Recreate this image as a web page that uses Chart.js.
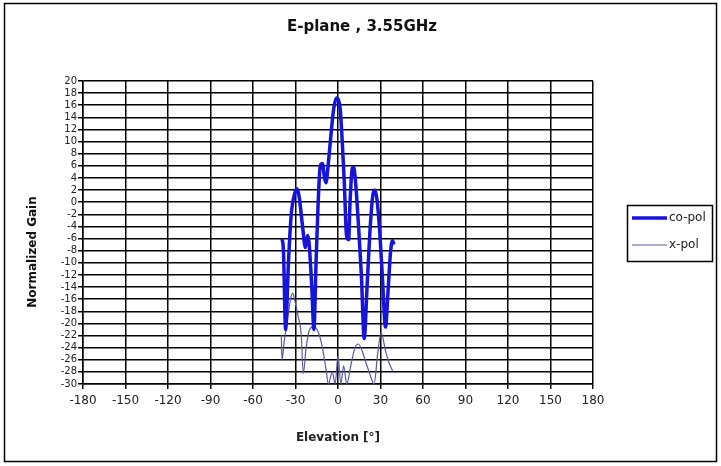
<!DOCTYPE html>
<html>
<head>
<meta charset="utf-8">
<script src="https://cdn.jsdelivr.net/npm/chart.js@4.4.0/dist/chart.umd.min.js"></script>
<style>
  body { margin: 0; background: #fff; }
  canvas { display: block; }
</style>
</head>
<body>
<canvas id="chart" width="721" height="466"></canvas>
<script>
// Measured pattern, E-plane at 3.55GHz
const chartTitle = 'E-plane , 3.55GHz'
const seriesNames = ['co-pol', 'x-pol']

const coPolElevation = [-39.5, -38.5, -37, -35, -33, -30.5, -29, -27.5, -25, -23, -21.5, -20.5, -18.5, -17,
  -15.5, -14, -12.5, -11, -9.5, -8.5, -7, -5, -3, -1, 0, 1.5, 3, 4.5, 6, 7.5, 8.5, 10, 11, 12.5, 14.5,
  16.5, 18.5, 20.5, 22.5, 24.5, 26, 27.5, 29.5, 31.5, 33.5, 35.5, 37, 38.5, 39.5]
const coPolGain = [-6, -8, -21, -10, -2, 1.5, 2.2, 1, -4, -7.5, -5.5, -6.5, -14, -21,
  -10, 0, 6, 6.4, 4, 3.2, 6, 11, 15.5, 17.2, 17, 15.5, 10, 3, -5.5, -6.2, 0, 5.5, 5.8, 3, -4,
  -12, -22.5, -14, -5, 1, 2, 0.5, -5, -13, -20.6, -14, -8.5, -6.3, -7]

const xPolElevation = [-40, -39.5, -38, -36, -33.5, -32, -30.5, -28, -26, -24.5, -22.5, -20, -17, -13.5,
  -11, -8.5, -6.8, -4, -2, 0, 2, 4, 6.2, 9, 12, 14.3, 17, 19, 22, 25.5, 28, 30.5, 33.5, 36, 38.6]
const xPolGain = [-22, -26, -23, -20, -16, -15, -16.2, -19, -21.7, -28.3, -24, -21, -20.5, -21.7,
  -24, -27.5, -30, -28, -30, -25.3, -30, -27, -30, -27, -24, -23.4, -24.5, -26, -28, -30, -25, -21.5, -24.5, -26.5, -27.8]

const FONT = 'DejaVu Sans'

// Title, y-axis title, legend box and outer frame
const decorations = {
  id: 'decorations',
  afterDraw(chart) {
    const ctx = chart.ctx
    ctx.save()
    ctx.fillStyle = '#111'
    ctx.textAlign = 'center'
    ctx.textBaseline = 'middle'
    ctx.font = 'bold 15px ' + FONT
    ctx.fillText(chartTitle, 362, 27)

    ctx.translate(33, 252)
    ctx.rotate(-Math.PI / 2)
    ctx.font = 'bold 12px ' + FONT
    ctx.fillText('Normalized Gain', 0, 0)
    ctx.restore()

    // legend
    ctx.save()
    ctx.strokeStyle = '#000'
    ctx.lineWidth = 1.5
    ctx.strokeRect(627.5, 205.5, 85, 56)
    ctx.font = '12px ' + FONT
    ctx.fillStyle = '#222'
    ctx.textBaseline = 'middle'
    const rows = [218, 245]
    chart.data.datasets.forEach((ds, i) => {
      ctx.beginPath()
      ctx.strokeStyle = ds.borderColor
      ctx.lineWidth = ds.borderWidth
      ctx.moveTo(632, rows[i])
      ctx.lineTo(667, rows[i])
      ctx.stroke()
      ctx.fillText(ds.label, 669, rows[i])
    })

    ctx.strokeStyle = '#000'
    ctx.lineWidth = 1.5
    ctx.strokeRect(4.5, 3.5, 712, 458)
    ctx.restore()
  }
}

new Chart(document.getElementById('chart'), {
  type: 'line',
  data: {
    datasets: [
      {
        label: seriesNames[0],
        data: coPolElevation.map((x, i) => ({ x, y: coPolGain[i] })),
        borderColor: '#1414dc',
        borderWidth: 3.5,
        pointRadius: 0,
        cubicInterpolationMode: 'monotone'
      },
      {
        label: seriesNames[1],
        data: xPolElevation.map((x, i) => ({ x, y: xPolGain[i] })),
        borderColor: '#5a5a9e',
        borderWidth: 1.2,
        pointRadius: 0,
        cubicInterpolationMode: 'monotone'
      }
    ]
  },
  options: {
    responsive: false,
    animation: false,
    layout: { padding: { top: 81, right: 128, left: 0, bottom: 0 } },
    plugins: {
      legend: { display: false },
      tooltip: { enabled: false }
    },
    scales: {
      x: {
        type: 'linear',
        min: -180,
        max: 180,
        afterFit: (s) => { s.height = 82 },
        ticks: { stepSize: 30, color: '#222', padding: 5, font: { family: FONT, size: 12 } },
        grid: { color: '#000', lineWidth: 1.5, tickLength: 5 },
        border: { color: '#000', width: 1.5 },
        title: {
          display: true,
          text: 'Elevation [°]',
          color: '#222',
          font: { family: FONT, size: 12, weight: 'bold' },
          padding: { top: 0, bottom: 21 }
        }
      },
      y: {
        min: -30,
        max: 20,
        afterFit: (s) => { s.width = 83 },
        ticks: { stepSize: 2, color: '#222', padding: 1, autoSkip: false, font: { family: FONT, size: 10 } },
        grid: { color: '#000', lineWidth: 1.5, tickLength: 5 },
        border: { color: '#000', width: 1.5 }
      }
    }
  },
  plugins: [decorations]
})
</script>
</body>
</html>
